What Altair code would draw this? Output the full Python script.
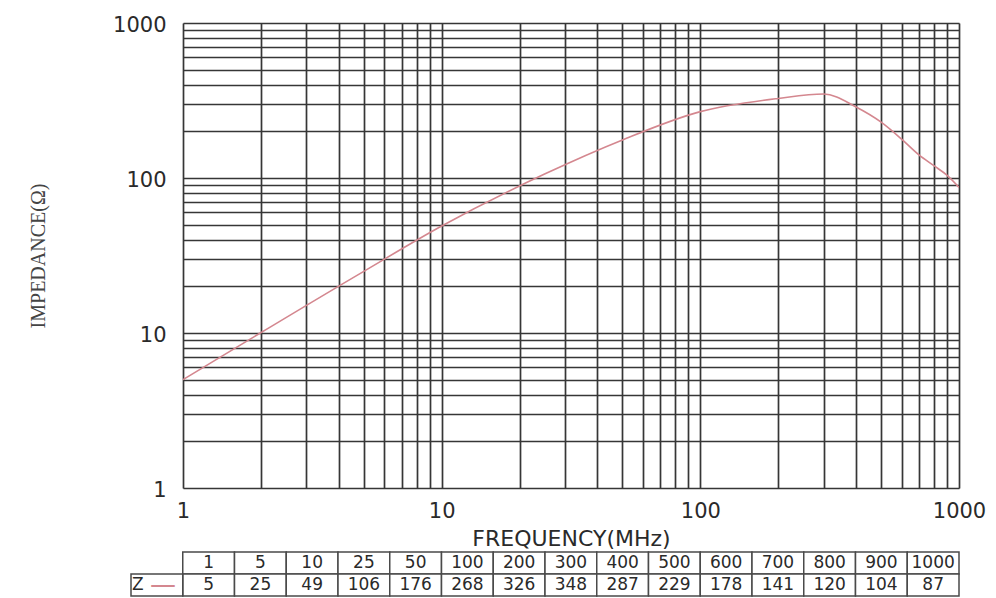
import altair as alt
import pandas as pd

# ---- data ----
freq_mhz = [1, 5, 10, 25, 50, 100, 200, 300, 400, 500, 600, 700, 800, 900, 1000]
impedance = [5, 25, 49, 106, 176, 268, 326, 348, 287, 229, 178, 141, 120, 104, 87]
grid_values = [1, 2, 3, 4, 5, 6, 7, 8, 9,
               10, 20, 30, 40, 50, 60, 70, 80, 90,
               100, 200, 300, 400, 500, 600, 700, 800, 900, 1000]
decade_labels = [1, 10, 100, 1000]
series_name = "Z"
legend_symbol = "—"
table_columns = [series_name] + [str(f) for f in freq_mhz]
row_names = ["freq", "z"]

curve = pd.DataFrame({"f": freq_mhz, "z": impedance})

cells = []
for f, zv in zip(freq_mhz, impedance):
    cells.append({"col": str(f), "row": "freq", "text": str(f)})
    cells.append({"col": str(f), "row": "z", "text": str(zv)})
cells.append({"col": series_name, "row": "z", "text": ""})
cells_df = pd.DataFrame(cells)
label_df = pd.DataFrame({"col": [series_name], "row": ["z"],
                         "text": [series_name], "sym": [legend_symbol]})

GRID = "#363636"
LINE = "#d4878f"
TXT = "#2a2a2a"
label_expr = f"indexof({decade_labels}, datum.value) >= 0 ? format(datum.value, 'd') : ''"

x_axis = alt.Axis(values=grid_values, grid=True, gridColor=GRID, gridWidth=1.7,
                  gridOpacity=1, ticks=False, domain=False, labelExpr=label_expr,
                  labelFlush=False, labelOverlap=False, labelFont="DejaVu Sans",
                  labelFontSize=21, labelColor=TXT, labelPadding=12,
                  title="FREQUENCY(MHz)", titleFont="DejaVu Sans", titleFontSize=22,
                  titleFontWeight="normal", titleColor=TXT, titlePadding=7)
y_axis = alt.Axis(values=grid_values, grid=True, gridColor=GRID, gridWidth=1.7,
                  gridOpacity=1, ticks=False, domain=False, labelExpr=label_expr,
                  labelFlush=False, labelOverlap=False, labelFont="DejaVu Sans",
                  labelFontSize=21, labelColor=TXT, labelPadding=17, labelOffset=2,
                  title="IMPEDANCE(Ω)", titleFont="Liberation Serif", titleFontSize=20,
                  titleFontWeight="normal", titleColor="#444", titlePadding=64)

line = alt.Chart(curve).mark_line(color=LINE, strokeWidth=1.6, clip=True,
                                  interpolate="monotone").encode(
    x=alt.X("f:Q", scale=alt.Scale(type="log", domain=[1, 1000], nice=False), axis=x_axis),
    y=alt.Y("z:Q", scale=alt.Scale(type="log", domain=[1, 1000], nice=False), axis=y_axis),
)

xt = alt.X("col:N", sort=table_columns,
           scale=alt.Scale(domain=table_columns, range=[-52, 776],
                           paddingInner=0, paddingOuter=0), axis=None)
yt = alt.Y("row:N", sort=row_names,
           scale=alt.Scale(domain=row_names, range=[529, 573],
                           paddingInner=0, paddingOuter=0), axis=None)

rects = alt.Chart(cells_df).mark_rect(fill="white", stroke="#4a4a4a", strokeWidth=1.5).encode(
    x=xt, y=yt)
texts = alt.Chart(cells_df).mark_text(font="DejaVu Sans", fontSize=17, color=TXT).encode(
    x=xt, y=yt, text="text:N")
lab_z = alt.Chart(label_df).mark_text(font="DejaVu Sans", fontSize=17, color=TXT, dx=-19).encode(
    x=xt, y=yt, text="text:N")
lab_sym = alt.Chart(label_df).mark_text(font="DejaVu Sans", fontSize=26, color=LINE, dx=6).encode(
    x=xt, y=yt, text="sym:N")

table = alt.layer(rects, texts, lab_z, lab_sym)

chart = alt.layer(line, table).resolve_scale(x="independent", y="independent").properties(
    width=776, height=465,
    autosize=alt.AutoSizeParams(type="none"),
    padding={"left": 175, "top": 15, "right": 29, "bottom": 110},
).configure_view(stroke=GRID, strokeWidth=1.7).configure(background="white")

chart.save("out.html", embed_options={"renderer": "svg", "actions": False})
